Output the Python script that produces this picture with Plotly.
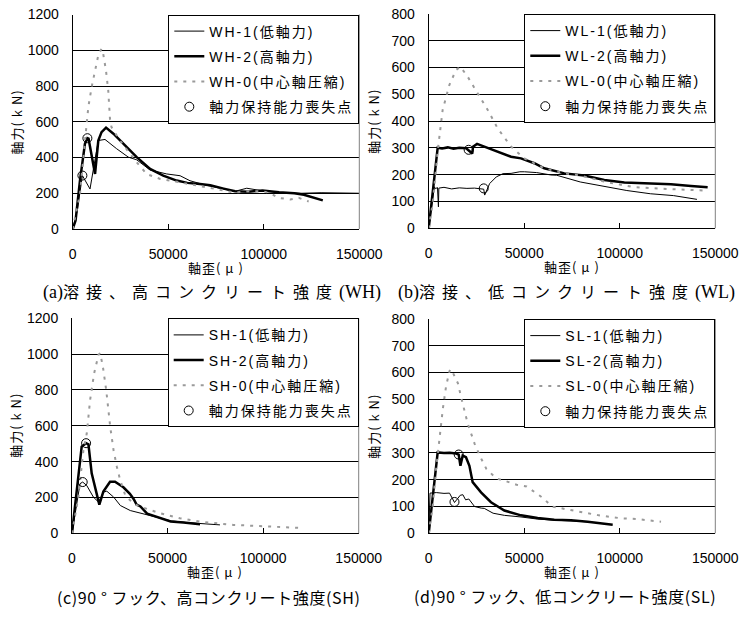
import plotly.graph_objects as go

# ---------------- data (axial strain in micro, axial force in kN) ----------------
# (a) welded, high concrete strength
WH1_x = [0, 2400, 5070, 9060, 13400, 16900, 23000, 29100, 33500, 40500, 49200, 56200, 61400, 69300, 78900, 85000, 91100, 100700, 110000, 120000, 130000, 140000, 150000]
WH1_y = [0, 103, 299, 224, 495, 501, 449, 402, 387, 330, 308, 298, 270, 246, 224, 211, 228, 211, 203, 200, 203, 202, 200]
WH2_x = [0, 1500, 3800, 6400, 7690, 8300, 11700, 13400, 15100, 17450, 21300, 26500, 33500, 40500, 47400, 54400, 60000, 66600, 72000, 79000, 85000, 92000, 99300, 108000, 116000, 121000, 126000, 130900]
WH2_y = [0, 47, 271, 477, 508, 505, 308, 495, 542, 567, 533, 477, 402, 336, 299, 271, 258, 252, 245, 226, 211, 209, 215, 206, 200, 192, 178, 160]
WH0_x = [0, 3820, 6440, 8180, 9920, 11700, 13400, 15100, 15950, 17400, 18600, 19500, 20300, 24700, 33400, 38800, 45800, 56200, 70200, 84200, 95000, 100000, 103400, 107800, 113900, 118300, 123500]
WH0_y = [0, 196, 495, 682, 794, 888, 972, 1009, 981, 888, 776, 617, 570, 495, 374, 307, 280, 261, 233, 205, 212, 210, 200, 174, 165, 174, 154]
WH_loss_x = [5070, 7690]
WH_loss_y = [299, 508]

# (b) welded, low concrete strength
WL1_x = [0, 2980, 3500, 4600, 5090, 5300, 8000, 12000, 16000, 20000, 24000, 27500, 28800, 29300, 31900, 35400, 38900, 43100, 47700, 50100, 56500, 64000, 67000, 79300, 93300, 103700, 116000, 128200, 140400]
WL1_y = [0, 155, 148, 152, 80, 150, 153, 147, 151, 149, 150, 149, 146, 124, 167, 192, 204, 205, 211, 211, 208, 199, 198, 173, 154, 141, 129, 122, 108]
WL2_x = [0, 4700, 7000, 10000, 13000, 16000, 19600, 20900, 22800, 23200, 25300, 29100, 36100, 43100, 48300, 55300, 60500, 71000, 81400, 91900, 102400, 109300, 118100, 126800, 137300, 146000]
WL2_y = [0, 301, 298, 302, 297, 301, 299, 292, 279, 305, 315, 305, 286, 267, 261, 243, 224, 205, 197, 180, 171, 169, 166, 164, 158, 153]
WL0_x = [0, 2100, 4740, 7300, 10800, 14300, 16600, 20400, 25600, 30900, 36100, 43100, 50100, 60500, 71000, 79300, 93300, 107300, 124700, 143900]
WL0_y = [0, 93, 291, 442, 535, 591, 603, 566, 504, 442, 373, 305, 261, 224, 205, 197, 172, 154, 147, 141]
WL_loss_x = [28800, 20900]
WL_loss_y = [149, 293]

# (c) 90-degree hook, high concrete strength
SH1_x = [0, 4200, 5600, 7700, 11200, 13900, 16500, 18200, 21800, 25300, 30500, 37500, 44600, 51600, 60000, 70500, 77400]
SH1_y = [0, 277, 286, 267, 202, 174, 230, 235, 202, 155, 127, 108, 90, 70, 60, 52, 47]
SH2_x = [0, 5060, 7370, 8600, 10300, 14300, 16400, 19900, 22500, 26900, 30300, 32300, 33800, 35800, 39300, 44600, 51600, 58300, 65200, 67000]
SH2_y = [0, 484, 503, 497, 335, 160, 233, 288, 288, 257, 220, 190, 160, 150, 110, 90, 66, 60, 52, 50]
SH0_x = [0, 3330, 5960, 7720, 9470, 11580, 13860, 14730, 16140, 17900, 20000, 21750, 23500, 25260, 27900, 32300, 35600, 46000, 56500, 67000, 84400, 101800, 119300]
SH0_y = [0, 202, 463, 557, 744, 893, 996, 1006, 931, 800, 594, 463, 370, 295, 211, 164, 149, 112, 84, 65, 47, 37, 30]
SH_loss_x = [5600, 7370]
SH_loss_y = [286, 503]

# (d) 90-degree hook, low concrete strength
SL1_x = [0, 700, 4000, 8000, 10900, 11750, 13500, 15300, 16500, 17900, 19300, 21000, 24000, 27500, 29100, 33700, 39600, 48300, 57000, 65700, 74500, 83200]
SL1_y = [0, 150, 152, 149, 150, 137, 115, 131, 142, 144, 125, 128, 100, 94, 93, 75, 67, 61, 53, 49, 46, 43]
SL2_x = [0, 4700, 8000, 11000, 14300, 15700, 16600, 17800, 19500, 21300, 23000, 27400, 32600, 39600, 48300, 57000, 65700, 74500, 83200, 91900, 96300]
SL2_y = [0, 302, 300, 301, 298, 294, 252, 290, 284, 252, 191, 153, 116, 85, 67, 57, 51, 49, 43, 36, 32]
SL0_x = [0, 2100, 3860, 5610, 7370, 9120, 10900, 11750, 13500, 15300, 16900, 18800, 20400, 24000, 26700, 30200, 35400, 40700, 46000, 51200, 56500, 60000, 64400, 74500, 88400, 100600, 109300, 121600]
SL0_y = [0, 100, 238, 363, 463, 550, 606, 613, 588, 560, 510, 450, 410, 335, 290, 240, 205, 194, 181, 175, 150, 131, 100, 86, 68, 56, 53, 43]
SL_loss_x = [13500, 15700]
SL_loss_y = [117, 294]

# labels
X_TICKS = [0, 50000, 100000, 150000]
X_TICK_LABELS = ["0", "50000", "100000", "150000"]
SERIES_NAMES = {
    "a": ["WH-1(低軸力)", "WH-2(高軸力)", "WH-0(中心軸圧縮)"],
    "b": ["WL-1(低軸力)", "WL-2(高軸力)", "WL-0(中心軸圧縮)"],
    "c": ["SH-1(低軸力)", "SH-2(高軸力)", "SH-0(中心軸圧縮)"],
    "d": ["SL-1(低軸力)", "SL-2(高軸力)", "SL-0(中心軸圧縮)"],
}
LOSS_NAME = "軸力保持能力喪失点"
X_TITLE = "軸歪( μ )"
Y_TITLE = "軸力( k N)"

W, H = 742, 617
SANS = "Liberation Sans, Arial, Noto Sans CJK JP, sans-serif"
CJK = "Noto Sans CJK JP, Liberation Sans, sans-serif"

panels = [
    dict(k="a", n=1, data=[(WH1_x, WH1_y), (WH2_x, WH2_y), (WH0_x, WH0_y)], loss=(WH_loss_x, WH_loss_y),
         xd=(72.7, 359.3), yd=(14.5, 229.0), ymax=1200, dt=200),
    dict(k="b", n=2, data=[(WL1_x, WL1_y), (WL2_x, WL2_y), (WL0_x, WL0_y)], loss=(WL_loss_x, WL_loss_y),
         xd=(428.7, 715.3), yd=(14.0, 228.3), ymax=800, dt=100),
    dict(k="c", n=3, data=[(SH1_x, SH1_y), (SH2_x, SH2_y), (SH0_x, SH0_y)], loss=(SH_loss_x, SH_loss_y),
         xd=(72.0, 358.7), yd=(318.3, 533.3), ymax=1200, dt=200),
    dict(k="d", n=4, data=[(SL1_x, SL1_y), (SL2_x, SL2_y), (SL0_x, SL0_y)], loss=(SL_loss_x, SL_loss_y),
         xd=(428.7, 715.3), yd=(319.0, 533.3), ymax=800, dt=100),
]

styles = [
    dict(color="black", width=1),
    dict(color="black", width=2.5),
    dict(color="#9a9a9a", width=2, dash="3px,6px"),
]

def sp(t, ls=2):
    return f'<span style="letter-spacing:{ls}px">{t}</span>'

fig = go.Figure()
layout = dict(template="none", width=W, height=H, margin=dict(l=0, r=0, t=0, b=0, autoexpand=False),
              paper_bgcolor="white", plot_bgcolor="white", showlegend=True,
              font=dict(family=SANS, color="black", size=14))
annotations = []
shapes = []

for p in panels:
    n = p["n"]
    sfx = "" if n == 1 else str(n)
    xa, ya = f"x{sfx}", f"y{sfx}"
    leg = "legend" if n == 1 else f"legend{n}"
    names = SERIES_NAMES[p["k"]]
    for i, ((xs, ys), st) in enumerate(zip(p["data"], styles)):
        fig.add_trace(go.Scatter(x=xs, y=ys, mode="lines", line=st, name=sp(names[i]),
                                 xaxis=xa, yaxis=ya, legend=leg, legendgroup=f"{p['k']}{i}"))
    fig.add_trace(go.Scatter(x=p["loss"][0], y=p["loss"][1], mode="markers",
                             marker=dict(symbol="circle-open", size=9, color="black", line=dict(width=1)),
                             name=sp(LOSS_NAME), xaxis=xa, yaxis=ya, legend=leg, legendgroup=f"{p['k']}L"))
    x0, x1 = p["xd"][0] / W, p["xd"][1] / W
    y0, y1 = 1 - p["yd"][1] / H, 1 - p["yd"][0] / H
    layout[f"xaxis{sfx}"] = dict(domain=[x0, x1], anchor=ya, range=[0, 150000], tickvals=X_TICKS,
                                 ticktext=X_TICK_LABELS, automargin=False,
                                 ticks="inside", ticklen=5, tickcolor="black", showgrid=False,
                                 showline=True, linecolor="black", linewidth=1, zeroline=False,
                                 ticklabelstandoff=12, tickfont=dict(size=14, family=SANS))
    layout[f"yaxis{sfx}"] = dict(domain=[y0, y1], anchor=xa, range=[0, p["ymax"]], dtick=p["dt"],
                                 automargin=False,
                                 showgrid=True, gridcolor="black", gridwidth=1, ticks="",
                                 showline=True, linecolor="black", linewidth=1, zeroline=False,
                                 ticklabelstandoff=10, tickfont=dict(size=14, family=SANS))
    layout[leg] = dict(x=x1, y=y1, xanchor="right", yanchor="top", bgcolor="white",
                       bordercolor="black", borderwidth=1, tracegroupgap=4,
                       font=dict(size=14, family=SANS))
    shapes.append(dict(type="line", xref=f"{xa} domain", yref=f"{ya} domain", x0=1, x1=1, y0=0, y1=1,
                       line=dict(color="#808080", width=1)))
    cx = (p["xd"][0] + p["xd"][1]) / 2
    cy = (p["yd"][0] + p["yd"][1]) / 2
    annotations.append(dict(text=sp(X_TITLE, 1), x=cx / W, y=1 - (p["yd"][1] + 38) / H, xref="paper", yref="paper",
                            showarrow=False, font=dict(size=13, family=CJK), xanchor="center", yanchor="middle"))
    annotations.append(dict(text=sp(Y_TITLE, 1), x=(p["xd"][0] - 56) / W, y=1 - cy / H, xref="paper", yref="paper",
                            showarrow=False, textangle=-90, font=dict(size=13, family=CJK),
                            xanchor="center", yanchor="middle"))

SER = '<span style="font-family:Liberation Serif;font-size:18px">%s</span>'
captions = [
    (SER % "(a)" + sp("溶接、高コンクリート強度", 7) + SER % "(WH)", 211.5, 291),
    (SER % "(b)" + sp("溶接、低コンクリート強度", 7) + SER % "(WL)", 566, 291),
    (sp("(c)90 ° フック、高コンクリート強度(SH)", 0.6), 208, 597),
    (sp("(d)90 ° フック、低コンクリート強度(SL)", 0.6), 565, 596),
]
for t, x, y in captions:
    annotations.append(dict(text=t, x=x / W, y=1 - y / H, xref="paper", yref="paper", showarrow=False,
                            font=dict(size=16, family=CJK), xanchor="center", yanchor="middle"))

layout["annotations"] = annotations
layout["shapes"] = shapes
fig.update_layout(**layout)
fig.write_html("out.html", config={"displayModeBar": False},
               post_script="document.body.style.margin='0';document.body.style.overflow='hidden';")
